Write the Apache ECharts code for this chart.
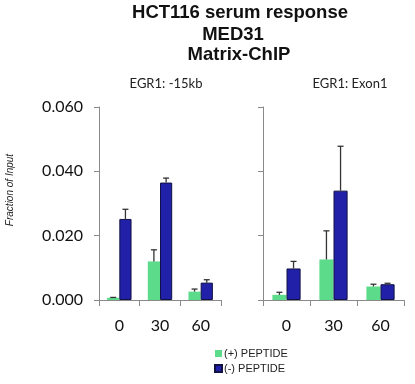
<!DOCTYPE html>
<html><head><meta charset="utf-8">
<script src="https://cdn.jsdelivr.net/npm/echarts@6/dist/echarts.min.js"></script>
<style>html,body{margin:0;padding:0;background:#fff}#c{width:415px;height:384px}</style>
</head><body><div id="c"></div>
<script>
var categories = ['0', '30', '60'];
var yTicks = [0, 0.02, 0.04, 0.06];
// EGR1: -15kb
var leftPlus = [0.0007, 0.0120, 0.0026];
var leftPlusErr = [0.0001, 0.0036, 0.0008];
var leftMinus = [0.0252, 0.0365, 0.0054];
var leftMinusErr = [0.0030, 0.0014, 0.0009];
// EGR1: Exon1
var rightPlus = [0.0016, 0.0126, 0.0042];
var rightPlusErr = [0.0008, 0.0089, 0.0007];
var rightMinus = [0.0098, 0.0340, 0.0049];
var rightMinusErr = [0.0022, 0.0138, 0.0003];

var GREEN = '#5cdb8a', BLUE = '#2020a8';
var chart = echarts.init(document.getElementById('c'));

function errSeries(idx, vals, errs, side) {
  return {
    type: 'custom', xAxisIndex: idx, yAxisIndex: idx, z: 5,
    data: vals.map(function (v, i) { return [i, v, v + errs[i]]; }),
    renderItem: function (params, api) {
      var band = api.size([1, 0])[0];
      var base = api.coord([api.value(0), api.value(1)]);
      var top = api.coord([api.value(0), api.value(2)]);
      var x = base[0] + side * 0.15 * band;
      var cap = 3;
      var st = { stroke: '#333', lineWidth: 1.3 };
      return { type: 'group', children: [
        { type: 'line', shape: { x1: x, y1: base[1], x2: x, y2: top[1] }, style: st },
        { type: 'line', shape: { x1: x - cap, y1: top[1], x2: x + cap, y2: top[1] }, style: st }
      ] };
    }
  };
}

function xAx(idx) {
  return {
    type: 'category', gridIndex: idx, data: categories,
    axisLine: { lineStyle: { color: '#8a8a8a', width: 1 } },
    axisTick: { show: true, length: 6, lineStyle: { color: '#8a8a8a' } },
    axisLabel: { fontFamily: 'Lato', fontSize: 16, color: '#111', margin: 18 }
  };
}
function yAx(idx, showLabels) {
  return {
    type: 'value', gridIndex: idx, min: yTicks[0], max: yTicks[yTicks.length - 1], interval: 0.02,
    splitLine: { show: false },
    axisLine: { show: true, lineStyle: { color: '#8a8a8a', width: 1 } },
    axisTick: { show: true, length: 5, lineStyle: { color: '#8a8a8a' } },
    axisLabel: { show: showLabels, fontFamily: 'Lato', fontSize: 16, color: '#111', margin: 16,
      formatter: function (v) { return v.toFixed(3); } }
  };
}
function ttl(text, cx, top, size, bold) {
  return { text: text, left: cx, top: top, textAlign: 'center', padding: 0,
    textStyle: { fontFamily: bold ? 'Liberation Sans' : 'Lato', fontWeight: bold ? 'bold' : 'normal',
      fontSize: size, color: bold ? '#111' : '#222' } };
}

chart.setOption({
  animation: false,
  backgroundColor: '#fff',
  title: [
    ttl('HCT116 serum response', 240, 3, 18.5, true),
    ttl('MED31', 233, 25, 18.5, true),
    ttl('Matrix-ChIP', 239, 45, 18.5, true),
    ttl('EGR1: -15kb', 166, 77, 13, false),
    ttl('EGR1: Exon1', 350, 77, 13, false)
  ],
  graphic: [{
    type: 'text', x: 5, y: 190, rotation: Math.PI / 2,
    style: { text: 'Fraction of Input', fontFamily: 'Liberation Sans', fontStyle: 'italic', fontSize: 10,
      fill: '#222', textAlign: 'center', textVerticalAlign: 'top' }
  }],
  legend: {
    orient: 'vertical', left: 214, top: 348, padding: 0, itemWidth: 7, itemHeight: 7, itemGap: 4,
    icon: 'rect',
    textStyle: { fontFamily: 'Liberation Sans', fontSize: 11, color: '#222', padding: [0, 0, 0, -3] },
    data: ['(+) PEPTIDE', '(-) PEPTIDE']
  },
  grid: [
    { left: 99, right: 194, top: 107, height: 193 },
    { left: 263, right: 11, top: 107, height: 193 }
  ],
  xAxis: [xAx(0), xAx(1)],
  yAxis: [yAx(0, true), yAx(1, false)],
  series: [
    { name: '(+) PEPTIDE', type: 'bar', xAxisIndex: 0, yAxisIndex: 0, data: leftPlus,
      barWidth: '30%', barGap: '0%', itemStyle: { color: GREEN } },
    { name: '(-) PEPTIDE', type: 'bar', xAxisIndex: 0, yAxisIndex: 0, data: leftMinus,
      barWidth: '30%', barGap: '0%', itemStyle: { color: BLUE, borderColor: '#111144', borderWidth: 1 } },
    { name: '(+) PEPTIDE', type: 'bar', xAxisIndex: 1, yAxisIndex: 1, data: rightPlus,
      barWidth: '30%', barGap: '0%', itemStyle: { color: GREEN } },
    { name: '(-) PEPTIDE', type: 'bar', xAxisIndex: 1, yAxisIndex: 1, data: rightMinus,
      barWidth: '30%', barGap: '0%', itemStyle: { color: BLUE, borderColor: '#111144', borderWidth: 1 } },
    errSeries(0, leftPlus, leftPlusErr, -1),
    errSeries(0, leftMinus, leftMinusErr, 1),
    errSeries(1, rightPlus, rightPlusErr, -1),
    errSeries(1, rightMinus, rightMinusErr, 1)
  ]
});
</script></body></html>
